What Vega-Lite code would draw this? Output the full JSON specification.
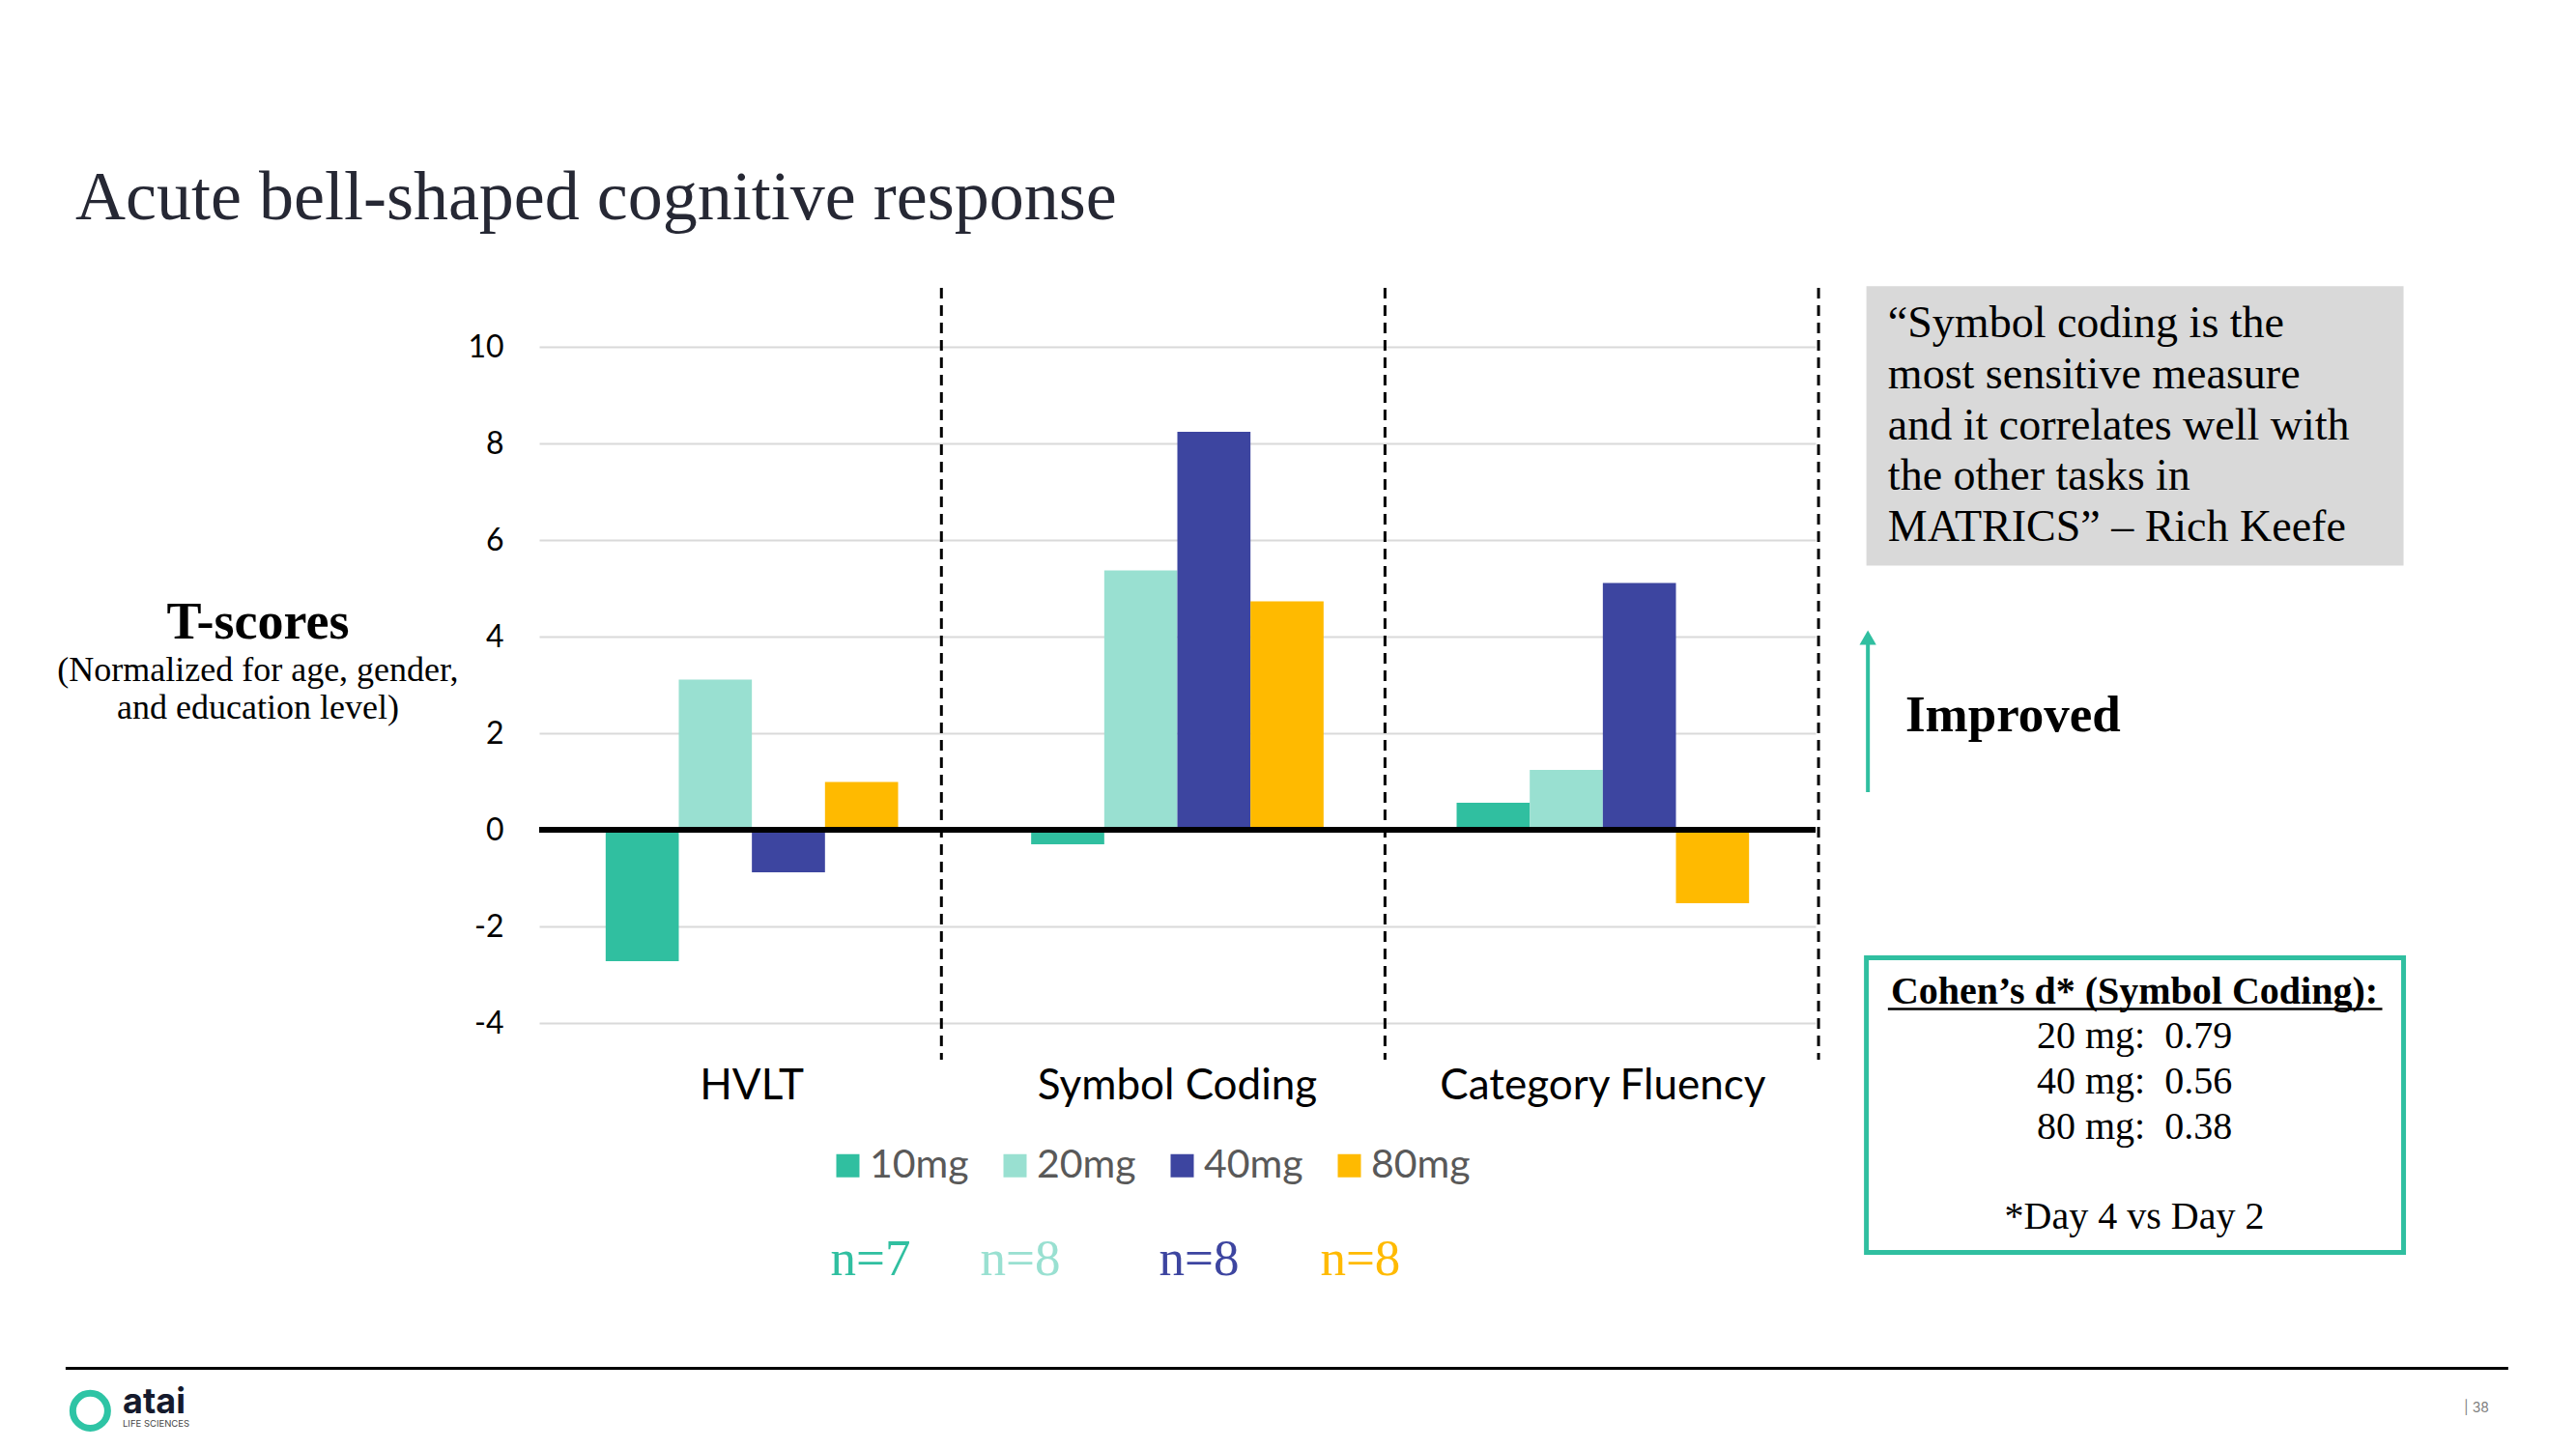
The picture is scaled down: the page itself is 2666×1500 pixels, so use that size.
{
  "$schema": "https://vega.github.io/schema/vega-lite/v6.json",
  "autosize": {"type": "none"},
  "padding": {"left": 558, "top": 298, "right": 787, "bottom": 403},
  "width": 1321,
  "height": 799,
  "background": "#ffffff",
  "config": {
    "view": {"stroke": null},
    "axisY": {"grid": true, "gridColor": "#d9d9d9", "gridWidth": 2, "domain": false, "ticks": false, "tickCount": 8, "labelFont": "Lato", "labelFontSize": 32, "labelColor": "#000000", "labelPadding": 37},
    "axisX": {"domain": false, "ticks": false, "grid": false, "labelAngle": 0, "labelFont": "Lato", "labelFontSize": 44, "labelColor": "#000000", "labelPadding": 5, "labelLimit": 0}
  },
  "resolve": {"scale": {"x": "independent"}},
  "layer": [
    {
      "data": {"values": [
        {"test": "HVLT", "dose": "10mg", "tscore": -2.72},
        {"test": "HVLT", "dose": "20mg", "tscore": 3.11},
        {"test": "HVLT", "dose": "40mg", "tscore": -0.88},
        {"test": "HVLT", "dose": "80mg", "tscore": 0.99},
        {"test": "Symbol Coding", "dose": "10mg", "tscore": -0.30},
        {"test": "Symbol Coding", "dose": "20mg", "tscore": 5.37},
        {"test": "Symbol Coding", "dose": "40mg", "tscore": 8.24},
        {"test": "Symbol Coding", "dose": "80mg", "tscore": 4.73},
        {"test": "Category Fluency", "dose": "10mg", "tscore": 0.56},
        {"test": "Category Fluency", "dose": "20mg", "tscore": 1.24},
        {"test": "Category Fluency", "dose": "40mg", "tscore": 5.11},
        {"test": "Category Fluency", "dose": "80mg", "tscore": -1.52}
      ]},
      "mark": {"type": "bar"},
      "encoding": {
        "x": {"field": "test", "type": "nominal", "sort": ["HVLT", "Symbol Coding", "Category Fluency"],
          "scale": {"paddingInner": 0.3127, "paddingOuter": 0.1563},
          "axis": {"title": null, "orient": "bottom"}},
        "xOffset": {"field": "dose", "type": "nominal", "sort": ["10mg", "20mg", "40mg", "80mg"], "scale": {"paddingInner": 0, "paddingOuter": 0}},
        "y": {"field": "tscore", "type": "quantitative", "title": null,
          "scale": {"domain": [-4.76, 11.22], "nice": false, "zero": false},
          "axis": {"title": null, "values": [-4, -2, 0, 2, 4, 6, 8, 10], "labelExpr": "replace(datum.label, '\u2212', '-')"}},
        "color": {"field": "dose", "type": "nominal",
          "scale": {"domain": ["10mg", "20mg", "40mg", "80mg"], "range": ["#30BFA0", "#99E0D1", "#3D45A0", "#FFBA00"]},
          "legend": {"orient": "none", "legendX": 299, "legendY": 888, "direction": "horizontal", "title": null, "symbolType": "square", "symbolSize": 576, "symbolStrokeWidth": 0, "symbolOpacity": 1, "labelFont": "Lato", "labelFontSize": 41, "labelColor": "#595959", "labelOffset": 2, "columnPadding": 27, "padding": 0}}
      }
    },
    {
      "data": {"values": [{}]},
      "mark": {"type": "rule", "color": "#000000", "strokeWidth": 6},
      "encoding": {"y": {"datum": 0, "type": "quantitative", "title": null}}
    },
    {
      "data": {"values": [{}]},
      "mark": {"type": "rule", "color": "#000000", "strokeWidth": 3, "strokeDash": [11, 7]},
      "encoding": {
        "x": {"datum": 0.9454, "type": "quantitative", "scale": {"domain": [0, 3], "nice": false, "zero": false}, "axis": null},
        "y": {"datum": 11.22, "type": "quantitative", "title": null},
        "y2": {"datum": -4.76}
      }
    },
    {
      "data": {"values": [{}]},
      "mark": {"type": "rule", "color": "#000000", "strokeWidth": 3, "strokeDash": [11, 7]},
      "encoding": {
        "x": {"datum": 1.988, "type": "quantitative", "scale": {"domain": [0, 3], "nice": false, "zero": false}, "axis": null},
        "y": {"datum": 11.22, "type": "quantitative", "title": null},
        "y2": {"datum": -4.76}
      }
    },
    {
      "data": {"values": [{}]},
      "mark": {"type": "rule", "color": "#000000", "strokeWidth": 3, "strokeDash": [11, 7]},
      "encoding": {
        "x": {"datum": 3.007, "type": "quantitative", "scale": {"domain": [0, 3], "nice": false, "zero": false}, "axis": null},
        "y": {"datum": 11.22, "type": "quantitative", "title": null},
        "y2": {"datum": -4.76}
      }
    },
    {
      "data": {"values": [{"t": "Acute bell-shaped cognitive response"}]},
      "mark": {"type": "text", "font": "Liberation Serif", "fontSize": 72, "color": "#262834", "align": "left", "baseline": "alphabetic"},
      "encoding": {
        "x": {"datum": -1.09, "type": "quantitative", "scale": {"domain": [0, 3], "nice": false, "zero": false}, "axis": null},
        "y": {"datum": 12.65, "type": "quantitative", "title": null},
        "text": {"field": "t"}
      }
    },
    {
      "data": {"values": [{"t": "T-scores"}]},
      "mark": {"type": "text", "font": "Liberation Serif", "fontSize": 54, "fontWeight": "bold", "color": "#000000", "align": "center", "baseline": "middle"},
      "encoding": {
        "x": {"datum": -0.661, "type": "quantitative", "scale": {"domain": [0, 3], "nice": false, "zero": false}, "axis": null},
        "y": {"datum": 4.29, "type": "quantitative", "title": null},
        "text": {"field": "t"}
      }
    },
    {
      "data": {"values": [{"t": "(Normalized for age, gender,\nand education level)"}]},
      "mark": {"type": "text", "font": "Liberation Serif", "fontSize": 36, "color": "#000000", "align": "center", "baseline": "middle", "lineBreak": "\n", "lineHeight": 39},
      "encoding": {
        "x": {"datum": -0.661, "type": "quantitative", "scale": {"domain": [0, 3], "nice": false, "zero": false}, "axis": null},
        "y": {"datum": 3.292, "type": "quantitative", "title": null},
        "text": {"field": "t"}
      }
    },
    {
      "data": {"values": [{"t": "n=7"}]},
      "mark": {"type": "text", "font": "Liberation Serif", "fontSize": 53, "color": "#30BFA0", "align": "center", "baseline": "middle"},
      "encoding": {
        "x": {"datum": 0.779, "type": "quantitative", "scale": {"domain": [0, 3], "nice": false, "zero": false}, "axis": null},
        "y": {"datum": -8.908, "type": "quantitative", "title": null},
        "text": {"field": "t"}
      }
    },
    {
      "data": {"values": [{"t": "n=8"}]},
      "mark": {"type": "text", "font": "Liberation Serif", "fontSize": 53, "color": "#99E0D1", "align": "center", "baseline": "middle"},
      "encoding": {
        "x": {"datum": 1.131, "type": "quantitative", "scale": {"domain": [0, 3], "nice": false, "zero": false}, "axis": null},
        "y": {"datum": -8.908, "type": "quantitative", "title": null},
        "text": {"field": "t"}
      }
    },
    {
      "data": {"values": [{"t": "n=8"}]},
      "mark": {"type": "text", "font": "Liberation Serif", "fontSize": 53, "color": "#3D45A0", "align": "center", "baseline": "middle"},
      "encoding": {
        "x": {"datum": 1.551, "type": "quantitative", "scale": {"domain": [0, 3], "nice": false, "zero": false}, "axis": null},
        "y": {"datum": -8.908, "type": "quantitative", "title": null},
        "text": {"field": "t"}
      }
    },
    {
      "data": {"values": [{"t": "n=8"}]},
      "mark": {"type": "text", "font": "Liberation Serif", "fontSize": 53, "color": "#FFBA00", "align": "center", "baseline": "middle"},
      "encoding": {
        "x": {"datum": 1.93, "type": "quantitative", "scale": {"domain": [0, 3], "nice": false, "zero": false}, "axis": null},
        "y": {"datum": -8.908, "type": "quantitative", "title": null},
        "text": {"field": "t"}
      }
    },
    {
      "data": {"values": [{}]},
      "mark": {"type": "rect", "color": "#d9d9d9"},
      "encoding": {
        "x": {"datum": 3.1195, "type": "quantitative", "scale": {"domain": [0, 3], "nice": false, "zero": false}, "axis": null},
        "x2": {"datum": 4.382},
        "y": {"datum": 11.254, "type": "quantitative", "title": null},
        "y2": {"datum": 5.472}
      }
    },
    {
      "data": {"values": [{"t": "“Symbol coding is the\nmost sensitive measure\nand it correlates well with\nthe other tasks in\nMATRICS” – Rich Keefe"}]},
      "mark": {"type": "text", "font": "Liberation Serif", "fontSize": 46, "color": "#000000", "align": "left", "baseline": "middle", "lineBreak": "\n", "lineHeight": 52.7},
      "encoding": {
        "x": {"datum": 3.17, "type": "quantitative", "scale": {"domain": [0, 3], "nice": false, "zero": false}, "axis": null},
        "y": {"datum": 10.472, "type": "quantitative", "title": null},
        "text": {"field": "t"}
      }
    },
    {
      "data": {"values": [{}]},
      "mark": {"type": "rule", "color": "#30BFA0", "strokeWidth": 4},
      "encoding": {
        "x": {"datum": 3.123, "type": "quantitative", "scale": {"domain": [0, 3], "nice": false, "zero": false}, "axis": null},
        "y": {"datum": 3.95, "type": "quantitative", "title": null},
        "y2": {"datum": 0.78}
      }
    },
    {
      "data": {"values": [{}]},
      "mark": {"type": "point", "shape": "triangle-up", "filled": true, "color": "#30BFA0", "opacity": 1, "size": 300},
      "encoding": {
        "x": {"datum": 3.123, "type": "quantitative", "scale": {"domain": [0, 3], "nice": false, "zero": false}, "axis": null},
        "y": {"datum": 3.98, "type": "quantitative", "title": null}
      }
    },
    {
      "data": {"values": [{"t": "Improved"}]},
      "mark": {"type": "text", "font": "Liberation Serif", "fontSize": 53, "fontWeight": "bold", "color": "#000000", "align": "left", "baseline": "middle"},
      "encoding": {
        "x": {"datum": 3.211, "type": "quantitative", "scale": {"domain": [0, 3], "nice": false, "zero": false}, "axis": null},
        "y": {"datum": 2.37, "type": "quantitative", "title": null},
        "text": {"field": "t"}
      }
    },
    {
      "data": {"values": [{}]},
      "mark": {"type": "rect", "fill": "#ffffff", "stroke": "#30BFA0", "strokeWidth": 5},
      "encoding": {
        "x": {"datum": 3.1195, "type": "quantitative", "scale": {"domain": [0, 3], "nice": false, "zero": false}, "axis": null},
        "x2": {"datum": 4.382},
        "y": {"datum": -2.648, "type": "quantitative", "title": null},
        "y2": {"datum": -8.748}
      }
    },
    {
      "data": {"values": [{"t": "Cohen’s d* (Symbol Coding):"}]},
      "mark": {"type": "text", "font": "Liberation Serif", "fontSize": 40, "fontWeight": "bold", "color": "#000000", "align": "center", "baseline": "middle"},
      "encoding": {
        "x": {"datum": 3.7495, "type": "quantitative", "scale": {"domain": [0, 3], "nice": false, "zero": false}, "axis": null},
        "y": {"datum": -3.368, "type": "quantitative", "title": null},
        "text": {"field": "t"}
      }
    },
    {
      "data": {"values": [{}]},
      "mark": {"type": "rule", "color": "#000000", "strokeWidth": 2.5},
      "encoding": {
        "x": {"datum": 3.17, "type": "quantitative", "scale": {"domain": [0, 3], "nice": false, "zero": false}, "axis": null},
        "x2": {"datum": 4.332},
        "y": {"datum": -3.708, "type": "quantitative", "title": null}
      }
    },
    {
      "data": {"values": [{"t": "20 mg:\u00a0 0.79\n40 mg:\u00a0 0.56\n80 mg:\u00a0 0.38"}]},
      "mark": {"type": "text", "font": "Liberation Serif", "fontSize": 40, "color": "#000000", "align": "center", "baseline": "middle", "lineBreak": "\n", "lineHeight": 46.8},
      "encoding": {
        "x": {"datum": 3.7495, "type": "quantitative", "scale": {"domain": [0, 3], "nice": false, "zero": false}, "axis": null},
        "y": {"datum": -4.288, "type": "quantitative", "title": null},
        "text": {"field": "t"}
      }
    },
    {
      "data": {"values": [{"t": "*Day 4 vs Day 2"}]},
      "mark": {"type": "text", "font": "Liberation Serif", "fontSize": 40, "color": "#000000", "align": "center", "baseline": "middle"},
      "encoding": {
        "x": {"datum": 3.7495, "type": "quantitative", "scale": {"domain": [0, 3], "nice": false, "zero": false}, "axis": null},
        "y": {"datum": -8.028, "type": "quantitative", "title": null},
        "text": {"field": "t"}
      }
    },
    {
      "data": {"values": [{}]},
      "mark": {"type": "rule", "color": "#000000", "strokeWidth": 3},
      "encoding": {
        "x": {"datum": -1.113, "type": "quantitative", "scale": {"domain": [0, 3], "nice": false, "zero": false}, "axis": null},
        "x2": {"datum": 4.628},
        "y": {"datum": -11.148, "type": "quantitative", "title": null}
      }
    },
    {
      "data": {"values": [{}]},
      "mark": {"type": "point", "shape": "circle", "filled": false, "color": "#2EC4A5", "strokeWidth": 7, "opacity": 1, "size": 1300},
      "encoding": {
        "x": {"datum": -1.0552, "type": "quantitative", "scale": {"domain": [0, 3], "nice": false, "zero": false}, "axis": null},
        "y": {"datum": -12.028, "type": "quantitative", "title": null}
      }
    },
    {
      "data": {"values": [{"t": "atai"}]},
      "mark": {"type": "text", "font": "Inter", "fontSize": 36, "fontWeight": "bold", "color": "#151a2d", "align": "left", "baseline": "alphabetic"},
      "encoding": {
        "x": {"datum": -0.9788, "type": "quantitative", "scale": {"domain": [0, 3], "nice": false, "zero": false}, "axis": null},
        "y": {"datum": -12.082, "type": "quantitative", "title": null},
        "text": {"field": "t"}
      }
    },
    {
      "data": {"values": [{"t": "LIFE SCIENCES"}]},
      "mark": {"type": "text", "font": "Inter", "fontSize": 9.5, "color": "#444444", "align": "left", "baseline": "alphabetic"},
      "encoding": {
        "x": {"datum": -0.9788, "type": "quantitative", "scale": {"domain": [0, 3], "nice": false, "zero": false}, "axis": null},
        "y": {"datum": -12.362, "type": "quantitative", "title": null},
        "text": {"field": "t"}
      }
    },
    {
      "data": {"values": [{"t": "| 38"}]},
      "mark": {"type": "text", "font": "Inter", "fontSize": 14, "color": "#7f7f7f", "align": "left", "baseline": "middle"},
      "encoding": {
        "x": {"datum": 4.524, "type": "quantitative", "scale": {"domain": [0, 3], "nice": false, "zero": false}, "axis": null},
        "y": {"datum": -11.97, "type": "quantitative", "title": null},
        "text": {"field": "t"}
      }
    }
  ]
}
